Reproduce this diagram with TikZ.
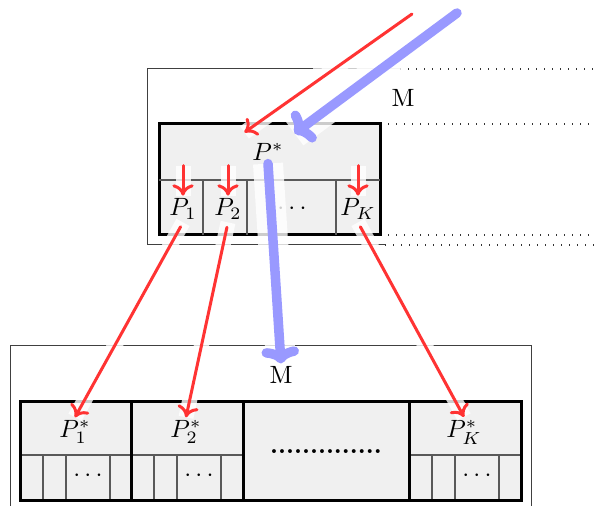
\documentclass[tikz,border=0pt]{standalone}
\usetikzlibrary{arrows.meta,calc}

\begin{document}
\begin{tikzpicture}[
    x=0.4pt, y=-0.4pt,
    frame/.style={draw=black!75, line width=0.4pt},
    ext/.style={draw=black!80, line width=0.5pt, dash pattern=on 0.5pt off 2.7pt},
    mem/.style={draw=black, line width=1.2pt, fill=black!6},
    sep/.style={draw=black!65, line width=0.5pt},
    lbl/.style={inner sep=1pt},
    redarr/.style={draw=red!80, line width=1.2pt, line cap=round, -{To[length=4.5pt,width=8.5pt]}},
    redhalo/.style={draw=white, opacity=0.8, line width=6pt},
    bluearr/.style={draw=blue!40, line width=3.8pt, line cap=round, -{To[length=6.5pt,width=15pt]}},
    bluehalo/.style={draw=white, opacity=0.8, line width=12pt}
]
\useasboundingbox (0,0) rectangle (595,506);

% upper memory M with the block P*
\draw[frame] (385,245) -- (147,245) -- (147,69) -- (313,69);
\draw[frame, draw=black!20] (313,69) -- (400,69);
\draw[ext] (400,69) -- (595,69);
\draw[ext] (380,124) -- (595,124);
\draw[ext] (380,235) -- (595,235);
\draw[ext] (385,245) -- (595,245);
\draw[mem] (159,124) rectangle (380,235);
\draw[sep] (159,180) -- (380,180);
\foreach \x in {203,247,336}
    \draw[sep] (\x,180) -- (\x,235);

\node[lbl] (mtop) at (403,98) {M};
\node[lbl] (pstar) at (268,152) {$P^*$};
\node[lbl] (p1) at (183,209) {$P_1$};
\node[lbl] (p2) at (228,209) {$P_2$};
\node[lbl] (pdots) at (292,209) {$\cdots$};
\node[lbl] (pk) at (358,209) {$P_K$};

% lower memory M with the blocks P_i^*
\draw[frame] (10,506) -- (10,346) -- (531,346) -- (531,506);
\fill[black!6] (20,402) rectangle (521,501);
\foreach \x in {20,131,409} {
    \draw[sep] (\x,455) -- ++(111,0);
    \foreach \d in {23,46,90}
        \draw[sep] (\x+\d,455) -- (\x+\d,501);
    \node[lbl] (cells\x) at (\x+68,476) {$\cdots$};
}
\foreach \a/\b in {20/131,131/243,243/409,409/521}
    \draw[mem, fill=none] (\a,402) rectangle (\b,501);

\node[lbl] (mlow) at (281,375) {M};
\node[lbl] (p1s) at (75,432) {$P_1^*$};
\node[lbl] (p2s) at (186,432) {$P_2^*$};
\node[lbl] (pks) at (464,432) {$P_K^*$};
\node[lbl] (rest) at (326,452) {\textbf{..............}};

\coordinate (redin) at (412,14);
\coordinate (bluein) at (457,13);

% halos
\draw[bluehalo] (bluein) -- ([shift={(8,-7)}]pstar.north east);
\draw[bluehalo] (pstar.south) -- (mlow.north);
\draw[redhalo] (redin) -- ([shift={(-5,-8)}]pstar.north west);
\foreach \n in {p1,p2,pk}
    \draw[redhalo] ([yshift=12pt]\n.north) -- (\n.north);
\foreach \a/\b in {p1/p1s,p2/p2s,pk/pks}
    \draw[redhalo] (\a.south) -- (\b.north);

% flows
\draw[bluearr] (bluein) -- ([shift={(8,-7)}]pstar.north east);
\draw[bluearr] (pstar.south) -- (mlow.north);
\draw[redarr] (redin) -- ([shift={(-5,-8)}]pstar.north west);
\foreach \n in {p1,p2,pk}
    \draw[redarr] ([yshift=12pt]\n.north) -- (\n.north);
\foreach \a/\b in {p1/p1s,p2/p2s,pk/pks}
    \draw[redarr, shorten <=2pt] (\a.south) -- (\b.north);
\end{tikzpicture}
\end{document}
